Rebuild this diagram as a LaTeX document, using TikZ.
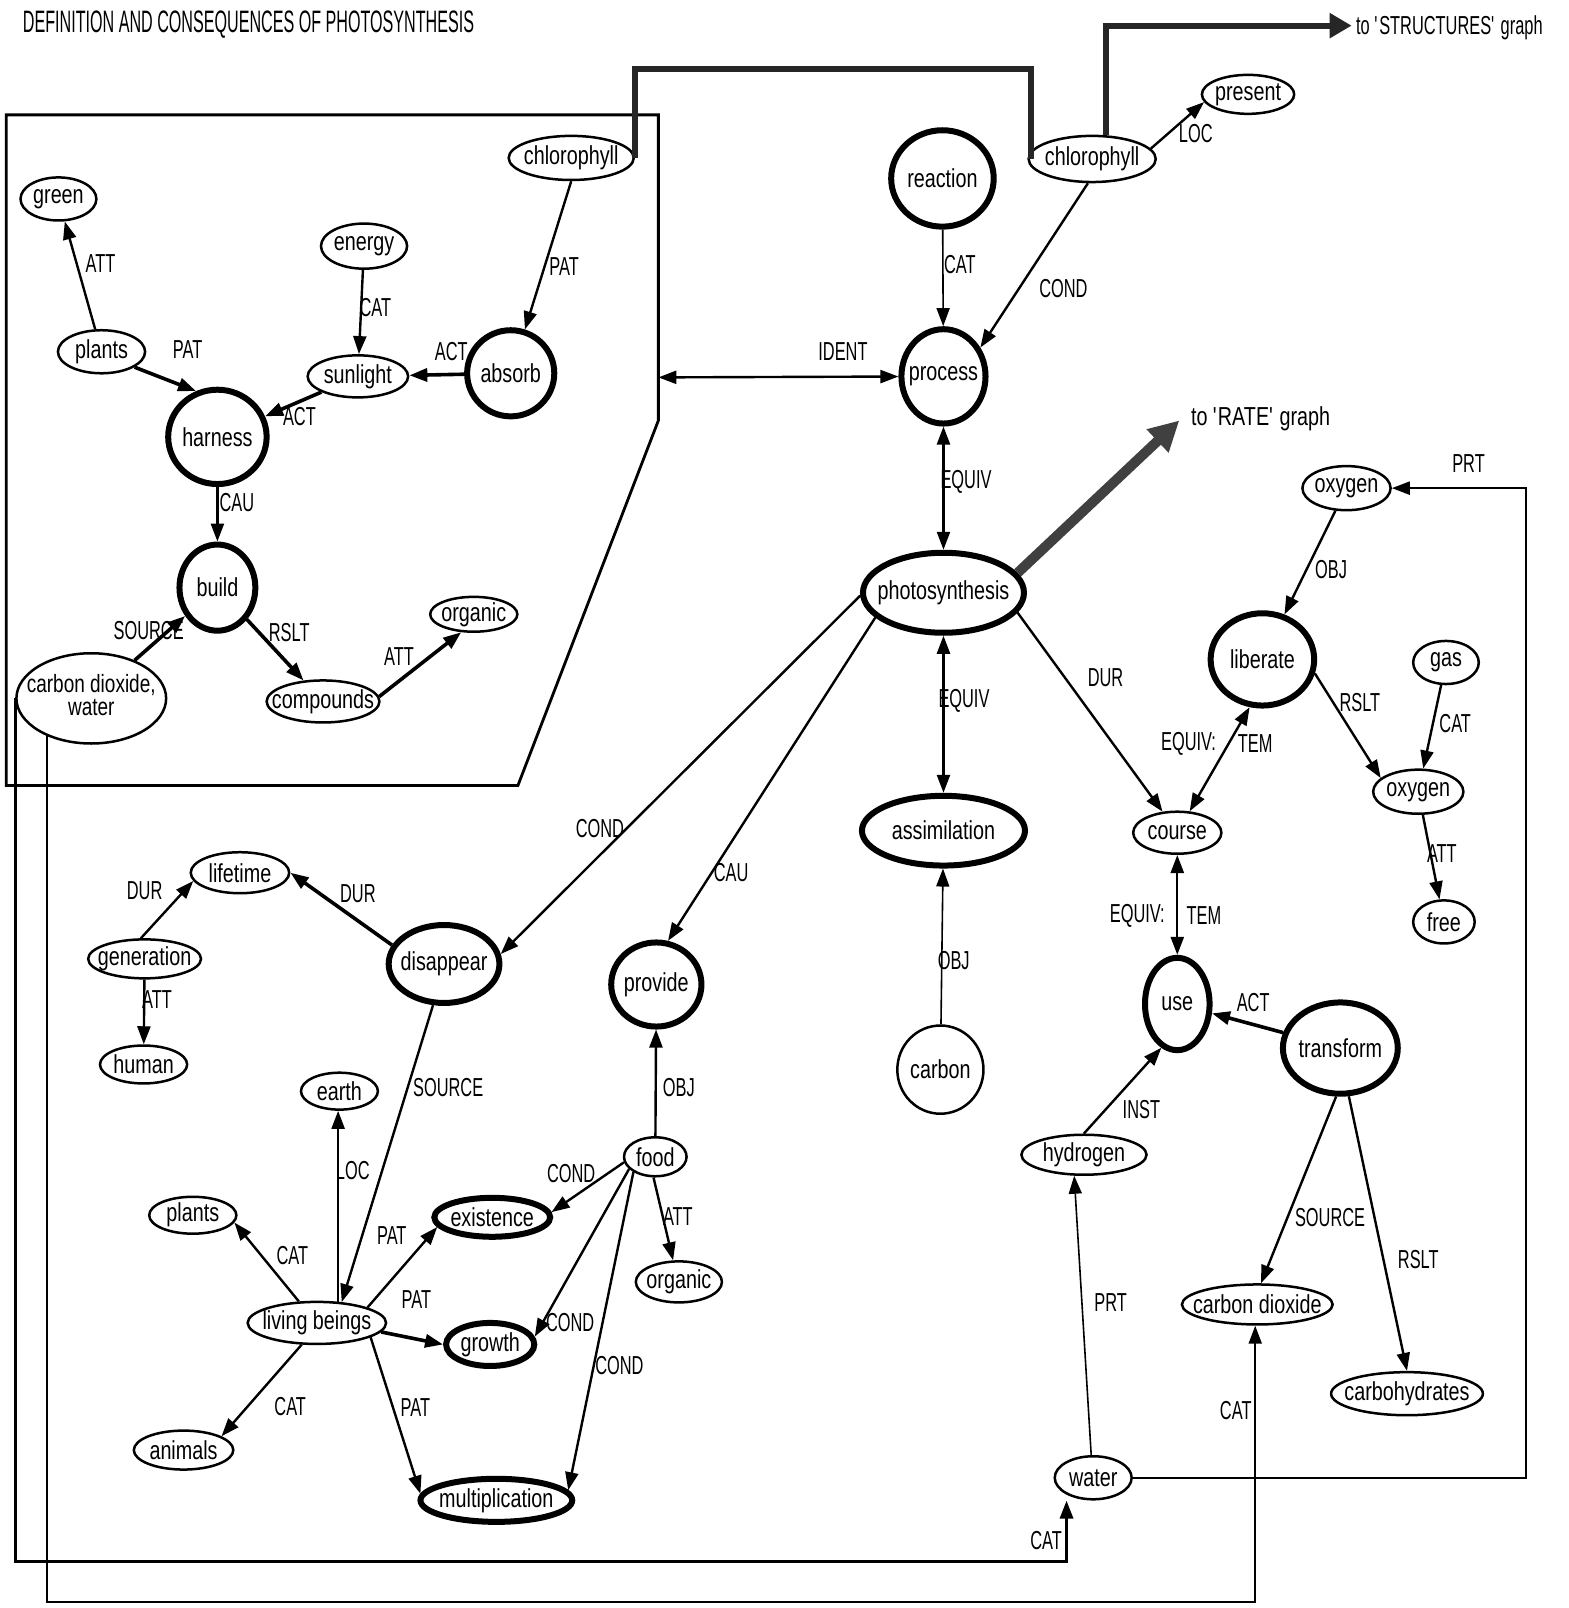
\documentclass[tikz,border=0pt]{standalone}
\usepackage{fontspec}
\usetikzlibrary{shapes.geometric,arrows.meta}
\newfontfamily\myNodeFam{Liberation Sans}[FakeStretch=0.76]
\newfontfamily\myLabFam{Liberation Sans}[FakeStretch=0.63]
\newfontfamily\myTitFam{Liberation Sans}[FakeStretch=0.52]
\newcommand\myNodeFont{\myNodeFam\fontsize{13}{11}\selectfont}
\newcommand\myLabFont{\myLabFam\fontsize{13}{13}\selectfont}
\newcommand\myTitFont{\myTitFam\fontsize{15.5}{15.5}\selectfont}
\newcommand\T[1]{\makebox[0pt]{#1}}
\def\U{0.51275pt}
\tikzset{
  every node/.style={font=\myNodeFont},
  nd/.style 2 args={ellipse, draw, line width=1.25pt, minimum width=#1*\U, minimum height=#2*\U, inner sep=0pt},
  bnd/.style 2 args={nd={#1}{#2}, line width=3pt},
  lab/.style={font=\myLabFont, inner sep=1pt},
  ar/.style={-{Triangle[length=9pt,width=6.5pt]}, line width=1.2pt},
  dar/.style={{Triangle[length=9pt,width=6.5pt]}-{Triangle[length=9pt,width=6.5pt]}, line width=1.2pt},
  bold/.style={line width=1.8pt},
  thinl/.style={line width=0.8pt},
  hatch/.style={line width=3pt, black!85},
  rate/.style={line width=5pt, black!75, -{Triangle[length=15pt,width=15pt]}},
}
\begin{document}
\begin{tikzpicture}[x=0.51275pt,y=-0.51275pt]
\fill[white] (0,0) rectangle (1529,1568);
\useasboundingbox (0,0) rectangle (1529,1568);

% title
\node[anchor=west, font=\myTitFont, inner sep=0pt] (title) at (22,24) {DEFINITION AND CONSEQUENCES OF PHOTOSYNTHESIS};

% box
\draw[line width=1.4pt] (6,112) -- (642,112) -- (642,410) -- (505,766) -- (6,766) -- cycle;
\coordinate (boxR) at (642,368);

% nodes: upper left box
\node[nd={74}{42}] (green) at (57,194) {\T{green}};
\node[nd={84}{44}] (energy) at (355,240) {\T{energy}};
\node[nd={122}{43}] (chlL) at (557,154) {\T{chlorophyll}};
\node[nd={85}{42}] (plantsT) at (99,343) {\T{plants}};
\node[nd={98}{41}] (sun) at (349,367) {\T{sunlight}};
\node[bnd={85}{84}] (absorb) at (498,364) {\T{absorb}};
\node[bnd={96}{92}] (harness) at (212,426) {\T{harness}};
\node[bnd={74}{84}] (build) at (212,573) {\T{build}};
\node[nd={85}{34}] (orgT) at (462,599) {\T{organic}};
\node[nd={110}{41}] (comp) at (315,684) {\T{compounds}};
\node[nd={146}{88}] (cdw) at (89,681) {\T{\fontsize{12.5}{11.5}\selectfont\begin{tabular}{@{}c@{}}carbon dioxide,\\water\end{tabular}}};

% nodes: centre / right
\node[bnd={100}{94}] (reaction) at (919,174) {\T{reaction}};
\node[nd={124}{45}] (chlR) at (1065,155) {\T{chlorophyll}};
\node[nd={90}{38}] (present) at (1217,92) {\T{present}};
\node[bnd={82}{92}] (process) at (920,367) {\T{process}};
\node[bnd={157}{78}] (photo) at (920,578) {\T{photosynthesis}};
\node[bnd={159}{68}] (assim) at (920,810) {\T{assimilation}};
\node[nd={84}{86}] (carbon) at (917,1043) {\T{carbon}};
\node[nd={86}{43}] (oxyT) at (1313,476) {\T{oxygen}};
\node[bnd={101}{90}] (liberate) at (1231,643) {\T{liberate}};
\node[nd={64}{42}] (gas) at (1410,646) {\T{gas}};
\node[nd={88}{43}] (oxyM) at (1383,772) {\T{oxygen}};
\node[nd={60}{42}] (free) at (1408,899) {\T{free}};
\node[nd={86}{41}] (course) at (1148,812) {\T{course}};
\node[bnd={63}{90}] (use) at (1148,979) {\T{use}};
\node[bnd={112}{89}] (transform) at (1307,1022) {\T{transform}};
\node[nd={122}{39}] (hydrogen) at (1057,1126) {\T{hydrogen}};
\node[nd={147}{39}] (cdB) at (1226,1272) {\T{carbon dioxide}};
\node[nd={148}{42}] (carbo) at (1372,1359) {\T{carbohydrates}};
\node[nd={75}{42}] (water) at (1066,1441) {\T{water}};

% nodes: lower left
\node[nd={96}{40}] (lifetime) at (234,851) {\T{lifetime}};
\node[nd={110}{38}] (gen) at (141,935) {\T{generation}};
\node[nd={85}{37}] (human) at (140,1038) {\T{human}};
\node[bnd={108}{76}] (disappear) at (433,940) {\T{disappear}};
\node[bnd={88}{82}] (provide) at (640,960) {\T{provide}};
\node[nd={75}{36}] (earth) at (331,1064) {\T{earth}};
\node[nd={61}{38}] (food) at (639,1128) {\T{food}};
\node[nd={85}{36}] (plantsB) at (188,1185) {\T{plants}};
\node[bnd={113}{38}] (existence) at (480,1187) {\T{existence}};
\node[nd={84}{40}] (orgB) at (662,1250) {\T{organic}};
\node[nd={135}{41}] (lb) at (309,1290) {\T{living beings}};
\node[bnd={86}{42}] (growth) at (478,1311) {\T{growth}};
\node[nd={97}{38}] (animals) at (179,1414) {\T{animals}};
\node[bnd={148}{42}] (multi) at (484,1463) {\T{multiplication}};

% edges: box
\draw[ar] (plantsT) -- (green) node[lab] at (98,257) {ATT};
\draw[ar, bold] (plantsT.-25) -- (harness.115) node[lab] at (183,341) {PAT};
\draw[ar] (energy) -- (sun) node[lab] at (366,300) {CAT};
\draw[ar] (chlL.south) -- (absorb.72) node[lab] at (550,260) {PAT};
\draw[ar, bold] (absorb) -- (sun) node[lab] at (440,343) {ACT};
\draw[ar, bold] (sun) -- (harness) node[lab] at (292,406) {ACT};
\draw[ar] (harness) -- (build) node[lab] at (231,490) {CAU};
\draw[ar, bold] (cdw) -- (build) node[lab] at (145,615) {SOURCE};
\draw[ar, bold] (build) -- (comp) node[lab] at (282,617) {RSLT};
\draw[ar, bold] (comp.5) -- (orgT.235) node[lab] at (389,640) {ATT};

% edges: centre
\draw[ar, thinl] (reaction) -- (process) node[lab] at (936,258) {CAT};
\draw[ar] (chlR.-100) -- (process.38) node[lab] at (1037,281) {COND};
\draw[ar] (chlR.10) -- (present.190) node[lab] at (1166,130) {LOC};
\draw[dar] (boxR) -- (process) node[lab] at (822,343) {IDENT};
\draw[dar] (process) -- (photo) node[lab] at (942,470) {EQUIV};
\draw[dar] (photo) -- (assim) node[lab] at (940,683) {EQUIV};
\draw[ar, thinl] (carbon) -- (assim) node[lab] at (930,937) {OBJ};
\draw[ar] (photo.-15) -- (course.125) node[lab] at (1078,661) {DUR};
\draw[dar] (course.60) -- (liberate.-105) node[lab] at (1159,725) {EQUIV:} node[lab] at (1224,725) {TEM};
\draw[dar] (course) -- (use) node[lab] at (1109,893) {EQUIV:} node[lab] at (1174,893) {TEM};
\draw[ar] (oxyT) -- (liberate) node[lab] at (1298,555) {OBJ};
\draw[ar] (liberate.-15) -- (oxyM.160) node[lab] at (1326,685) {RSLT};
\draw[ar] (gas) -- (oxyM) node[lab] at (1419,706) {CAT};
\draw[ar] (oxyM) -- (free) node[lab] at (1406,832) {ATT};
\draw[ar, bold] (transform) -- (use) node[lab] at (1222,978) {ACT};
\draw[ar] (hydrogen.north) -- (use.-110) node[lab] at (1113,1082) {INST};
\draw[ar] (transform.-95) -- (cdB.80) node[lab] at (1297,1187) {SOURCE};
\draw[ar] (transform.-80) -- (carbo.north) node[lab] at (1383,1228) {RSLT};
\draw[ar, thinl] (water.95) -- (hydrogen.-115) node[lab] at (1083,1270) {PRT};
\coordinate (pr) at (1488,476);
\draw[ar] (water.east) -| (pr) -- (oxyT.east) node[lab] at (1432,452) {PRT};

% long CAT connectors from carbon dioxide, water
\coordinate (cw) at (1040,1523);
\draw[ar, line width=1.6pt] (cdw.west) |- (cw) -- (cw |- water.south) node[lab] at (1020,1502) {CAT};
\coordinate (cc) at (1224,1562);
\draw[ar, line width=1pt] (cdw.-140) |- (cc) -- (cc |- cdB.south) node[lab] at (1205,1375) {CAT};

% edges: lower left
\draw[ar] (photo.182) -- (disappear.10) node[lab] at (585,808) {COND};
\draw[ar] (photo.200) -- (provide.75) node[lab] at (713,851) {CAU};
\draw[ar, bold] (disappear.160) -- (lifetime.east) node[lab] at (349,871) {DUR};
\draw[ar] (gen.100) -- (lifetime.190) node[lab] at (141,869) {DUR};
\draw[ar] (gen) -- (human) node[lab] at (153,975) {ATT};
\draw[ar] (disappear.-105) -- (lb.40) node[lab] at (437,1060) {SOURCE};
\draw[ar] (lb.45) -- (lb.45 |- earth.south) node[lab] at (344,1141) {LOC};
\draw[ar] (lb.130) -- (plantsB.-10) node[lab] at (285,1224) {CAT};
\draw[ar] (lb.-125) -- (animals.20) node[lab] at (283,1372) {CAT};
\draw[ar] (lb.17) -- (existence.190) node[lab] at (382,1205) {PAT};
\draw[ar, bold] (lb.-8) -- (growth.west) node[lab] at (406,1267) {PAT};
\draw[ar] (lb.-15) -- (multi.175) node[lab] at (405,1373) {PAT};
\draw[ar] (food) -- (provide) node[lab] at (662,1060) {OBJ};
\draw[ar] (food.190) -- (existence.5) node[lab] at (557,1144) {COND};
\draw[ar] (food.205) -- (growth.10) node[lab] at (556,1290) {COND};
\draw[ar] (food.215) -- (multi.8) node[lab] at (604,1332) {COND};
\draw[ar] (food.-95) -- (orgB.105) node[lab] at (661,1186) {ATT};

% heavy connectors
\coordinate (tc) at (1005,67);
\draw[hatch] (chlL.east) |- (tc) -- (tc |- chlR.west);
\coordinate (st) at (1318,25);
\draw[hatch, -{Triangle[length=11pt,width=12pt]}] (chlR.60) |- (st);
\node[anchor=west, inner sep=0pt, font=\myLabFont] (tostruct) at (1322,27) {to \textquotesingle STRUCTURES\textquotesingle{} graph};
\coordinate (rt) at (1150,410);
\draw[rate] (photo.15) -- (rt);
\node[anchor=west, inner sep=0pt] (torate) at (1161,408) {to \textquotesingle RATE\textquotesingle{} graph};
\end{tikzpicture}
\end{document}
